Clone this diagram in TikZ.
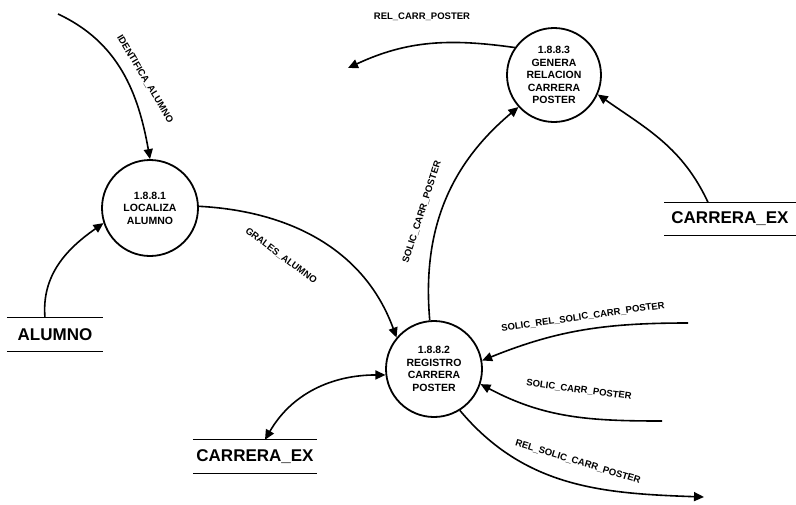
\documentclass[tikz,border=0pt]{standalone}
\usepackage{fontspec}
\setmainfont{Liberation Sans}
\usetikzlibrary{arrows.meta}
\begin{document}
\begin{tikzpicture}[x=1pt,y=-1pt,
  process/.style={circle,draw,line width=1.8pt,minimum size=96pt,inner sep=0pt,
    align=center,font=\bfseries\fontsize{10.5}{12.5}\selectfont},
  store/.style={minimum height=33pt,inner sep=0pt,font=\bfseries\fontsize{17}{17}\selectfont},
  storeline/.style={line width=1.3pt},
  flow/.style={line width=1.6pt,-{Triangle[length=10pt,width=9pt]}},
  biflow/.style={line width=1.6pt,{Triangle[length=10pt,width=9pt]}-{Triangle[length=10pt,width=9pt]}},
  flowlabel/.style={font=\bfseries\fontsize{9.5}{9.5}\selectfont,inner sep=0pt}]
\useasboundingbox[fill=white] (0,0) rectangle (796,504);

% processes
\node[process] (loc) at (150,208) {1.8.8.1\\LOCALIZA\\ALUMNO};
\node[process] (reg) at (434,369) {1.8.8.2\\REGISTRO\\CARRERA\\POSTER};
\node[process,minimum size=94pt] (gen) at (554,75) {1.8.8.3\\GENERA\\RELACION\\CARRERA\\POSTER};

% data stores
\node[store,minimum width=96pt] (alu) at (55,334.5) {ALUMNO};
\node[store,minimum width=131pt] (cxr) at (730,219) {CARRERA\_EX};
\node[store,minimum width=124pt] (cxb) at (255,456.5) {CARRERA\_EX};
\foreach \s in {alu,cxr,cxb}{
  \draw[storeline] (\s.north west) -- (\s.north east);
  \draw[storeline] (\s.south west) -- (\s.south east);
}

% open ends of external flows
\coordinate (idin) at (58,14);
\coordinate (relout) at (348,68);
\coordinate (solrel) at (688,323);
\coordinate (solc) at (662,421);
\coordinate (relsol) at (704,497);

% flows
\draw[flow] (idin) to[out=-25,in=100] (loc.north);
\draw[flow] ([xshift=-10pt]alu.north) to[out=95,in=215] (loc.198);
\draw[flow] (loc.2) to[out=-3,in=110] (reg.140);
\draw[flow] (reg.95) to[out=95,in=220] (gen.222);
\draw[flow] (gen.145) to[out=172,in=25] (relout);
\draw[flow] ([xshift=-22pt]cxr.north) to[out=115,in=-35] (gen.-24);
\draw[flow] (solrel) to[out=180,in=22] (reg.10);
\draw[flow] (solc) to[out=180,in=-28] (reg.-18);
\draw[flow] (reg.-58) to[out=-50,in=178] (relsol);
\draw[biflow] ([xshift=10pt]cxb.north) to[out=60,in=180] (reg.187);

% flow labels
\node[flowlabel,rotate=-59] (l1) at (145,79) {IDENTIFICA\_ALUMNO};
\node[flowlabel,rotate=-37] (l2) at (281,256) {GRALES\_ALUMNO};
\node[flowlabel,rotate=72] (l3) at (422,212) {SOLIC\_CARR\_POSTER};
\node[flowlabel] (l4) at (422,17) {REL\_CARR\_POSTER};
\node[flowlabel,rotate=8] (l5) at (583,317) {SOLIC\_REL\_SOLIC\_CARR\_POSTER};
\node[flowlabel,rotate=-7.5] (l6) at (579,390) {SOLIC\_CARR\_POSTER};
\node[flowlabel,rotate=-17] (l7) at (578,462) {REL\_SOLIC\_CARR\_POSTER};
\end{tikzpicture}
\end{document}
